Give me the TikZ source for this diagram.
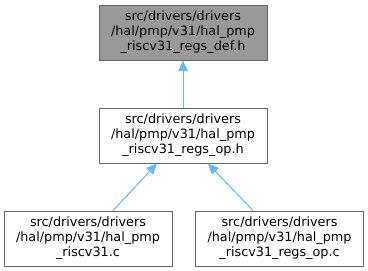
\documentclass[tikz,border=0pt]{standalone}
\usepackage{fontspec}
\setmainfont{DejaVu Sans}
\usepackage{xcolor}
\usetikzlibrary{positioning,arrows.meta}
\definecolor{dedge}{HTML}{63B8FF}
\definecolor{dline}{HTML}{666666}
\definecolor{dgray}{HTML}{999999}
\tikzset{
  file/.style  ={draw=dline, line width=0.75pt, fill=white, inner sep=0pt,
                 minimum width=126pt, minimum height=41.25pt, align=center,
                 font=\fontsize{9.6}{11.25}\selectfont},
  cur/.style   ={file, fill=dgray},
  dep/.style   ={-{Triangle[length=8pt,width=7pt]}, line width=0.75pt, draw=dedge},
}
\begin{document}
\begin{tikzpicture}[node distance=35.25pt]
  \useasboundingbox (0,0) rectangle (276pt,-203.25pt);
  \node[cur] (def) at (137.25pt,-24.4pt) {src/drivers/drivers\\/hal/pmp/v31/hal\_pmp\\\_riscv31\_regs\_def.h};
  \node[file, below=of def] (oph) {src/drivers/drivers\\/hal/pmp/v31/hal\_pmp\\\_riscv31\_regs\_op.h};
  \node[file, below=of oph, xshift=-71.25pt] (rvc) {src/drivers/drivers\\/hal/pmp/v31/hal\_pmp\\\_riscv31.c};
  \node[file, below=of oph, xshift=72.4pt] (opc) {src/drivers/drivers\\/hal/pmp/v31/hal\_pmp\\\_riscv31\_regs\_op.c};
  \draw[dep] (oph) -- (def);
  \draw[dep] ([xshift=18.75pt]rvc.north) -- ([xshift=-19.5pt]oph.south);
  \draw[dep] ([xshift=-19.9pt]opc.north) -- ([xshift=18.75pt]oph.south);
\end{tikzpicture}
\end{document}
